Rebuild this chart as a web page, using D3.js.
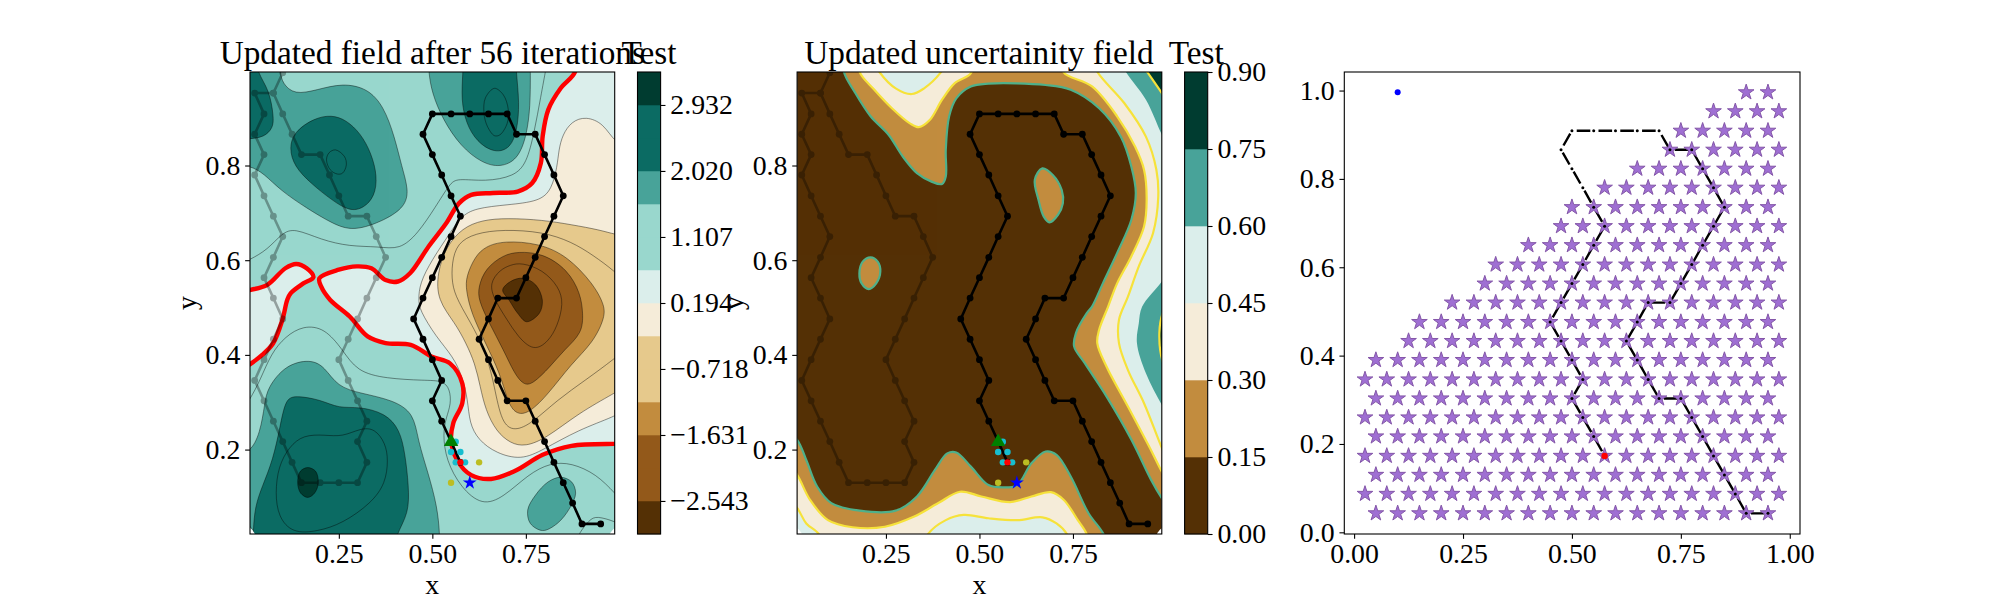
<!DOCTYPE html>
<html><head><meta charset="utf-8">
<script src="https://cdn.jsdelivr.net/npm/d3@7"></script>
<style>html,body{margin:0;background:#fff}svg{display:block}text{font-family:"Liberation Serif",serif;fill:#000}</style>
</head><body><svg id="c" width="2000" height="600"></svg>
<script>
// ---------- categories, labels ----------
const title1 = "Updated field after 56 iterations", title2 = "Updated uncertainity field", cbTitle = "Test";
const meanLevels = [-3,-2.543,-2.087,-1.631,-1.175,-0.718,-0.262,0.194,0.651,1.107,1.563,2.02,2.476,2.932,3.388];
const meanColors = ["#543005","#93591a","#93591a","#c28c3e","#e6c98c","#e6c98c","#f5ecd9","#dbeeeb","#99d7cd","#99d7cd","#48a399","#0b6b63","#0b6b63","#003c30"];
const meanTicks = [-2.543,-1.631,-0.718,0.194,1.107,2.02,2.932];
const sdLevels = [0,0.15,0.3,0.45,0.6,0.75,0.9];
const sdColors = ["#543005","#c28c3e","#f5ecd9","#dbeeeb","#48a399","#003c30"];
// ---------- paths and sampled points ----------
const pathCurrent = [[.95,.043],[.9,.043],[.875,.087],[.85,.13],[.825,.173],[.8,.217],[.775,.26],[.75,.303],[.7,.303],[.675,.346],[.65,.39],[.625,.433],[.65,.476],[.675,.52],[.725,.52],[.75,.563],[.775,.606],[.8,.65],[.825,.693],[.85,.736],[.825,.78],[.8,.823],[.775,.866],[.725,.866],[.7,.909],[.65,.909],[.6,.909],[.55,.909],[.5,.909],[.475,.866],[.5,.823],[.525,.78],[.55,.736],[.575,.693],[.55,.65],[.525,.606],[.5,.563],[.475,.52],[.45,.476],[.475,.433],[.5,.39],[.525,.346],[.5,.303],[.525,.26],[.55,.217],[.575,.173]];
const pathEarlier = [[.1,.996],[.075,.953],[.025,.953],[.05,.909],[.025,.866],[.05,.823],[.025,.78],[.05,.736],[.075,.693],[.1,.65],[.075,.606],[.05,.563],[.075,.52],[.1,.476],[.075,.433],[.05,.39],[.025,.346],[.05,.303],[.075,.26],[.1,.217],[.125,.173],[.15,.13],[.2,.13],[.25,.13],[.3,.13],[.325,.173],[.3,.217],[.325,.26],[.3,.303],[.275,.346],[.25,.39],[.275,.433],[.3,.476],[.325,.52],[.35,.563],[.375,.606],[.35,.65],[.325,.693],[.275,.693],[.25,.736],[.225,.78],[.2,.823],[.15,.823],[.125,.866],[.1,.909],[.075,.953]];
const cyanPts = [[.5625,.2165],[.55,.195],[.575,.195],[.5625,.173],[.5875,.173]];
const olivePts = [[.625,.173],[.55,.13]];
const nextStar = [.6,.13], startDot = [.1,.996], redDot = [.575,.173], greenTri = [.55,.2165];
// ---------- remaining candidate nodes, panel 3 ----------
const rowOdd = [.05,.1,.15,.2,.25,.3,.35,.4,.45,.5,.55,.6,.65,.7,.75,.8,.85,.9,.95];
const rowEven = [.025,.075,.125,.175,.225,.275,.325,.375,.425,.475,.525,.575,.625,.675,.725,.775,.825,.875,.925,.975];
const candY = [.043,.087,.13,.173,.217,.26,.303,.346,.39,.433,.476,.52,.563,.606,.65,.693,.736,.78,.823,.866,.909,.953,.996];
const candFirstX = [.05,.025,.05,.025,.05,.025,.05,.025,.05,.125,.15,.225,.3,.325,.4,.475,.5,.575,.65,.725,.75,.825,.9];
// ---------- mean field contours, [x,y] ----------
const m065 = [[.881,.997],[.843,.963],[.81,.918],[.795,.862],[.79,.805],[.767,.763],[.728,.745],[.662,.742],[.604,.738],[.571,.72],[.537,.678],[.49,.629],[.441,.573],[.408,.555],[.375,.558],[.337,.583],[.298,.587],[.25,.58],[.198,.562],[.203,.544],[.227,.516],[.279,.481],[.327,.439],[.375,.425],[.442,.421],[.499,.396],[.547,.382],[.58,.34],[.58,.298],[.556,.256],[.55,.22],[.566,.178],[.604,.146],[.657,.138],[.719,.154],[.795,.189],[.872,.208],[.989,.212],[1.03,.212],[1.03,-.03],[-.03,-.03],[-.03,.36],[.012,.38],[.045,.4],[.074,.424],[.099,.474],[.112,.516],[.121,.53],[.155,.551],[.182,.564],[.164,.583],[.136,.592],[.107,.583],[.059,.548],[.012,.537],[-.03,.53],[-.03,1.03],[.881,1.03]];
const m156a = [[.093,.997],[.099,.974],[.131,.949],[.193,.96],[.26,.974],[.327,.963],[.37,.925],[.399,.861],[.418,.798],[.437,.748],[.427,.713],[.375,.685],[.289,.66],[.231,.678],[.164,.71],[.093,.748],[.05,.783],[.012,.8],[-.03,.8],[-.03,1.03],[.093,1.03]];
const m156b = [[.49,.997],[.499,.953],[.528,.897],[.576,.84],[.633,.805],[.681,.796],[.728,.812],[.752,.862],[.762,.925],[.762,.997],[.762,1.03],[.49,1.03]];
const m156c = [[.012,.192],[.04,.235],[.052,.298],[.059,.33],[.107,.379],[.174,.391],[.212,.375],[.246,.333],[.308,.319],[.394,.305],[.451,.277],[.461,.22],[.489,.15],[.513,.08],[.52,.021],[.52,-.03],[-.03,-.03],[-.03,.192]];
const m156d = [[.843,.1415],[.872,.132],[.883,.108],[.867,.076],[.834,.044],[.795,.029],[.762,.044],[.755,.0725],[.776,.104],[.81,.132]];
const m202a = [[.031,.997],[.064,.96],[.076,.903],[.074,.879],[.05,.86],[.012,.856],[-.03,.856],[-.03,1.03],[.031,1.03]];
const m202b = [[.231,.907],[.27,.896],[.308,.868],[.337,.826],[.353,.777],[.346,.735],[.317,.71],[.279,.703],[.231,.727],[.174,.763],[.131,.798],[.117,.837],[.131,.872],[.184,.9]];
const m202c = [[.582,.997],[.577,.939],[.59,.889],[.619,.85],[.666,.826],[.709,.836],[.727,.875],[.733,.932],[.724,.997],[.724,1.03],[.582,1.03]];
const m202d = [[.026,.08],[.045,.122],[.074,.178],[.093,.249],[.107,.305],[.131,.315],[.203,.305],[.25,.287],[.303,.291],[.375,.277],[.413,.242],[.427,.192],[.437,.122],[.437,.065],[.403,.021],[.39,-.03],[.02,-.03],[.021,.03]];
const m293 = [[.167,.162],[.188,.154],[.195,.129],[.185,.108],[.167,.099],[.148,.108],[.14,.129],[.147,.154]];
const m248a = [[.241,.833],[.265,.819],[.27,.801],[.26,.784],[.246,.782],[.227,.791],[.217,.812],[.224,.827]];
const m248b = [[.666,.963],[.69,.949],[.703,.918],[.7,.889],[.681,.865],[.666,.863],[.647,.883],[.638,.911],[.642,.943]];
const m248c = [[.08,.108],[.088,.164],[.117,.206],[.155,.231],[.212,.231],[.26,.227],[.308,.245],[.346,.245],[.375,.213],[.382,.178],[.375,.129],[.337,.087],[.26,.044],[.193,.027],[.126,.023],[.088,.058]];
const m111a = [[.805,1.01],[.79,.946],[.772,.868],[.752,.805],[.719,.777],[.642,.766],[.566,.773],[.547,.762],[.509,.713],[.461,.656],[.413,.622],[.356,.629],[.279,.629],[.203,.643],[.131,.668],[.098,.657],[.059,.622],[.012,.601],[-.02,.59]];
const m111b = [[-.02,.27],[.012,.305],[.04,.347],[.069,.403],[.107,.439],[.155,.462],[.212,.457],[.26,.411],[.298,.365],[.375,.35],[.48,.346],[.528,.346],[.547,.328],[.55,.296],[.537,.268],[.528,.233],[.537,.177],[.576,.12],[.633,.081],[.69,.099],[.757,.148],[.815,.172],[.872,.172],[.939,.148],[.989,.107],[1.02,.08]];
const m111c = [[.885,.005],[.891,.022],[.92,.052],[.939,.06],[.989,.048],[1.02,.035]];
const m019 = [[1.03,.84],[.989,.846],[.958,.889],[.91,.904],[.872,.893],[.848,.865],[.838,.833],[.834,.798],[.819,.749],[.786,.724],[.7,.717],[.614,.71],[.576,.692],[.547,.657],[.499,.601],[.466,.551],[.463,.516],[.466,.495],[.509,.439],[.556,.396],[.58,.354],[.595,.305],[.599,.256],[.623,.22],[.671,.192],[.738,.178],[.795,.199],[.891,.242],[.989,.27],[1.03,.29]];
const mN026 = [[1.03,.65],[.989,.654],[.948,.664],[.872,.675],[.795,.685],[.7,.689],[.633,.685],[.58,.668],[.537,.629],[.513,.573],[.513,.516],[.561,.467],[.59,.425],[.614,.382],[.628,.333],[.642,.284],[.671,.238],[.709,.213],[.748,.206],[.805,.224],[.891,.277],[.989,.32],[1.03,.34]];
const mN072 = [[1.02,.55],[.989,.576],[.929,.611],[.872,.639],[.795,.66],[.69,.665],[.614,.657],[.566,.636],[.552,.594],[.552,.551],[.566,.516],[.614,.453],[.647,.396],[.666,.333],[.685,.256],[.719,.238],[.767,.256],[.834,.305],[.91,.347],[.989,.393],[1.02,.415]];
const mN118 = [[.69,.641],[.786,.636],[.862,.608],[.929,.551],[.958,.509],[.963,.481],[.929,.425],[.872,.382],[.805,.312],[.752,.273],[.719,.277],[.7,.305],[.681,.361],[.642,.425],[.604,.488],[.59,.537],[.59,.565],[.614,.608],[.642,.629]];
const mN163 = [[.728,.618],[.795,.615],[.862,.58],[.896,.53],[.903,.488],[.901,.446],[.853,.411],[.815,.375],[.767,.337],[.743,.337],[.719,.361],[.69,.411],[.652,.467],[.623,.516],[.623,.544],[.642,.583],[.69,.611]];
const mN209 = [[.738,.595],[.795,.58],[.838,.544],[.851,.509],[.834,.46],[.81,.428],[.771,.407],[.728,.439],[.7,.474],[.666,.516],[.652,.551],[.681,.58],[.709,.59]];
const mN254 = [[.743,.562],[.776,.548],[.794,.516],[.786,.488],[.752,.47],[.728,.488],[.705,.516],[.688,.537],[.709,.555]];
// ---------- uncertainty field contours ----------
const s015a = [[.138,.997],[.166,.956],[.209,.904],[.257,.865],[.295,.819],[.333,.784],[.372,.766],[.4,.761],[.41,.777],[.41,.833],[.419,.904],[.438,.942],[.477,.967],[.524,.973],[.677,.97],[.744,.96],[.82,.921],[.878,.861],[.906,.798],[.918,.742],[.906,.685],[.868,.615],[.83,.551],[.801,.502],[.787,.488],[.758,.446],[.753,.418],[.782,.382],[.84,.312],[.907,.22],[.959,.136],[.99,.094],[1.03,.05],[1.03,1.03],[.138,1.03]];
const s015b = [[-.03,.25],[.013,.22],[.037,.178],[.066,.122],[.104,.087],[.18,.071],[.276,.071],[.333,.101],[.381,.157],[.414,.192],[.438,.194],[.477,.164],[.524,.125],[.563,.12],[.601,.125],[.639,.171],[.677,.196],[.706,.189],[.744,.143],[.792,.065],[.832,.021],[.85,-.03],[-.03,-.03]];
const s015c = [[.668,.794],[.696,.78],[.72,.748],[.723,.72],[.71,.696],[.687,.68],[.672,.692],[.658,.727],[.648,.77]];
const s015d = [[.209,.606],[.228,.597],[.235,.576],[.224,.551],[.204,.539],[.185,.551],[.179,.572],[.188,.597]];
const s030a = [[.18,.997],[.219,.96],[.266,.921],[.314,.889],[.338,.881],[.367,.896],[.4,.939],[.434,.974],[.477,.995],[.48,1.03],[.18,1.03]];
const s030b = [[.725,.997],[.801,.967],[.868,.904],[.916,.84],[.94,.791],[.947,.727],[.94,.671],[.906,.608],[.868,.551],[.844,.502],[.82,.453],[.815,.425],[.84,.375],[.897,.291],[.954,.206],[.99,.15],[1.03,.1],[1.03,1.03],[.725,1.03]];
const s030c = [[-.03,.19],[.013,.146],[.047,.094],[.095,.051],[.161,.036],[.247,.037],[.324,.058],[.39,.087],[.448,.111],[.505,.101],[.582,.089],[.639,.101],[.691,.11],[.725,.094],[.763,.051],[.787,.021],[.8,-.03],[-.03,-.03]];
const s045a = [[.233,.997],[.276,.963],[.319,.951],[.352,.963],[.395,.995],[.42,1.03],[.21,1.03]];
const s045b = [[.816,.997],[.887,.932],[.945,.861],[.973,.791],[.978,.734],[.964,.657],[.926,.587],[.897,.523],[.873,.474],[.873,.425],[.897,.368],[.94,.298],[.99,.199],[1.03,.13],[1.03,1.03],[.8,1.03]];
const s045c = [[-.03,.11],[.013,.076],[.037,.044],[.071,.021],[.09,-.03],[-.03,-.03]];
const s045d = [[.362,.021],[.41,.051],[.458,.062],[.524,.055],[.601,.051],[.668,.057],[.706,.044],[.734,.021],[.75,-.03],[.34,-.03]];
const s060a = [[.892,.997],[.945,.939],[.99,.861],[1.03,.8],[1.03,1.03],[.87,1.03]];
const s060b = [[.99,.558],[.935,.502],[.926,.467],[.921,.425],[.945,.361],[.99,.291],[1.03,.24],[1.03,.61]];
const s075a = [[.949,.997],[.99,.95],[1.03,.9],[1.03,1.03],[.92,1.03]];
const s075b = [[.99,.488],[.981,.446],[.99,.386],[1.03,.33],[1.03,.54]];
// white, uncovered corners of the contoured area
const cornerA = [[.0125,.0217],[.0125,.034],[.025,.0217]], cornerB = [[.9875,.0217],[.9875,.034],[.975,.0217]];

const xTicks=[.25,.5,.75], yTicks=[.2,.4,.6,.8], x3Ticks=[0,.25,.5,.75,1], y3Ticks=[0,.2,.4,.6,.8,1];
const axTop=72, axBot=534, fs=27.8, tfs=33.3, tl=4.86, pad=4.86;
const svg=d3.select("#c");
const closed=(x,y)=>d3.line().x(d=>x(d[0])).y(d=>y(d[1])).curve(d3.curveCatmullRomClosed.alpha(.5));
const soft=(x,y)=>d3.line().x(d=>x(d[0])).y(d=>y(d[1])).curve(d3.curveBasisClosed);
const open=(x,y)=>d3.line().x(d=>x(d[0])).y(d=>y(d[1])).curve(d3.curveBasis);
function styleAxis(g){g.selectAll("text").style("font-family",'"Liberation Serif",serif').style("font-size",fs+"px").attr("fill","#000");
  g.selectAll(".tick line").attr("stroke","#000").attr("stroke-width",1.1);g.select(".domain").attr("stroke","none");}
function frame(id,left,right,xd,yd,xt,yt,xf,yf){
  const x=d3.scaleLinear(xd,[left,right]), y=d3.scaleLinear(yd,[axBot,axTop]);
  const g=svg.append("g");
  svg.append("clipPath").attr("id",id).append("rect").attr("x",left).attr("y",axTop).attr("width",right-left).attr("height",axBot-axTop);
  const body=g.append("g").attr("clip-path",`url(#${id})`);
  const over=svg.append("g");
  over.append("g").attr("transform",`translate(0,${axBot})`).call(d3.axisBottom(x).tickValues(xt).tickFormat(d3.format(xf)).tickSize(tl).tickPadding(pad)).call(styleAxis);
  over.append("g").attr("transform",`translate(${left},0)`).call(d3.axisLeft(y).tickValues(yt).tickFormat(d3.format(yf)).tickSize(tl).tickPadding(pad)).call(styleAxis);
  over.append("rect").attr("x",left).attr("y",axTop).attr("width",right-left).attr("height",axBot-axTop).attr("fill","none").attr("stroke","#000").attr("stroke-width",1.1);
  return {x,y,body,left,right};
}
function label(t,x,y,size,rot,anchor){const e=svg.append("text").text(t).attr("text-anchor",anchor||"middle").style("font-size",size+"px");
  if(rot)e.attr("transform",`translate(${x},${y}) rotate(-90)`);else e.attr("x",x).attr("y",y);return e;}
function fills(p,list,color,line,smooth){const f=(smooth?soft:closed)(p.x,p.y);
  p.body.selectAll(null).data(list).enter().append("path").attr("d",f).attr("fill",color).attr("stroke",line?line.c:"none").attr("stroke-width",line?line.w:0).attr("stroke-opacity",line?line.o:0);}
function lines(p,list,kind,c,w,o){const f=kind==="closed"?closed(p.x,p.y):kind==="soft"?soft(p.x,p.y):open(p.x,p.y);
  p.body.selectAll(null).data(list).enter().append("path").attr("d",f).attr("fill","none").attr("stroke",c).attr("stroke-width",w).attr("stroke-opacity",o);}
function colorbar(left,levels,colors,ticks,fmt){
  const w=23.1,y=d3.scaleLinear([levels[0],levels[levels.length-1]],[axBot,axTop]);
  svg.append("g").selectAll("rect").data(colors).enter().append("rect").attr("x",left).attr("width",w)
    .attr("y",(d,i)=>y(levels[i+1])).attr("height",(d,i)=>y(levels[i])-y(levels[i+1])+.3).attr("fill",d=>d);
  svg.append("g").attr("transform",`translate(${left+w},0)`).call(d3.axisRight(y).tickValues(ticks).tickFormat(fmt).tickSize(tl).tickPadding(pad)).call(styleAxis);
  svg.append("rect").attr("x",left).attr("y",axTop).attr("width",w).attr("height",axBot-axTop).attr("fill","none").attr("stroke","#000").attr("stroke-width",1.1);
  label(cbTitle,left+w/2,63.7,tfs);
}
function route(p,op){
  const l=d3.line().x(d=>p.x(d[0])).y(d=>p.y(d[1]));
  [[pathEarlier,op],[pathCurrent,1]].forEach(([d,o])=>{
    const g=p.body.append("g").attr("opacity",o);
    g.append("path").attr("d",l(d)).attr("fill","none").attr("stroke","#000").attr("stroke-width",2.6).attr("stroke-linejoin","round");
    g.selectAll("circle").data(d).enter().append("circle").attr("cx",e=>p.x(e[0])).attr("cy",e=>p.y(e[1])).attr("r",3.4).attr("fill","#000");
  });
  const dot=(arr,c,r)=>p.body.selectAll(null).data(arr).enter().append("circle").attr("cx",e=>p.x(e[0])).attr("cy",e=>p.y(e[1])).attr("r",r).attr("fill",c);
  dot(cyanPts,"#17becf",3.2); dot(olivePts,"#bcbd22",3.2);
  p.body.append("path").attr("d",d3.symbol(d3.symbolStar,60)()).attr("transform",`translate(${p.x(nextStar[0])},${p.y(nextStar[1])})`).attr("fill","#0000ff");
  dot([redDot],"#ff0000",3.2);
  p.body.append("path").attr("d",d3.symbol(d3.symbolTriangle,90)()).attr("transform",`translate(${p.x(greenTri[0])},${p.y(greenTri[1])})`).attr("fill","#008000");
}
const xD=[.0125,.9875], yD=[.0217,.9975];
// ---- panel 1
const p1=frame("a1",250,614.7,xD,yD,xTicks,yTicks,".2f",".1f");
const thin={c:"#000",w:.7,o:.6};
p1.body.append("rect").attr("x",250).attr("y",axTop).attr("width",364.7).attr("height",462).attr("fill","#dbeeeb");
fills(p1,[m065],"#99d7cd",thin);
fills(p1,[m156a,m156b,m156c],"#48a399",thin,true);
fills(p1,[m156d],"#48a399",thin);
fills(p1,[m202a,m202b,m202c,m202d],"#0b6b63",thin,true);
fills(p1,[m293],"#003c30",thin);
fills(p1,[m019],"#f5ecd9",thin,true);
fills(p1,[mN026],"#e6c98c",thin,true);
fills(p1,[mN118],"#c28c3e",thin,true);
fills(p1,[mN163],"#93591a",thin,true);
fills(p1,[mN254],"#543005",thin);
lines(p1,[m248a,m248b],"closed","#000",.7,.6);
lines(p1,[m248c,mN209],"soft","#000",.7,.6);
lines(p1,[m111a,m111b,m111c,mN072],"open","#000",.7,.6);
lines(p1,[m065],"closed","#ff0000",4.4,1);
fills(p1,[cornerA,cornerB],"#fff");
route(p1,.32);
label(title1,432.3,63.7,tfs);
label("x",432.3,593.5,fs);
label("y",196,303,fs,true);
colorbar(637.5,meanLevels,meanColors,meanTicks,d=>d3.format(".3f")(d).replace("-","\u2212"));
// ---- panel 2
const p2=frame("a2",797.1,1161.8,xD,yD,xTicks,yTicks,".2f",".1f");
p2.body.append("rect").attr("x",797.1).attr("y",axTop).attr("width",364.7).attr("height",462).attr("fill","#543005");
fills(p2,[s015a,s015b,s015c,s015d],"#c28c3e",{c:"#4fb08a",w:2.2,o:1});
fills(p2,[s030a,s030b,s030c],"#f5ecd9",{c:"#f6e23a",w:2.2,o:1});
fills(p2,[s045a,s045b,s045c,s045d],"#dbeeeb",{c:"#f6e23a",w:2.2,o:1});
fills(p2,[s060a,s060b],"#48a399");
fills(p2,[s075a,s075b],"#003c30",{c:"#f6e23a",w:2.2,o:1});
fills(p2,[cornerA,cornerB],"#fff");
route(p2,.32);
label(title2,979,63.7,tfs);
label("x",979.4,593.5,fs);
label("y",743,303,fs,true);
colorbar(1184.6,sdLevels,sdColors,sdLevels,d3.format(".2f"));
// ---- panel 3
const p3=frame("a3",1344.3,1800,[-.0225,1.0235],[-.0038,1.042],x3Ticks,y3Ticks,".2f",".1f");
const segs=d3.pairs(pathCurrent);
p3.body.selectAll(null).data(segs).enter().append("line")
  .attr("x1",d=>p3.x(d[0][0])).attr("y1",d=>p3.y(d[0][1])).attr("x2",d=>p3.x(d[1][0])).attr("y2",d=>p3.y(d[1][1]))
  .attr("stroke","#000").attr("stroke-width",2.4).attr("stroke-dasharray","0 3.4 13.6 5").attr("stroke-linecap","butt");
const star=d3.symbol(d3.symbolStar,76)();
const rows=candY.map((y,i)=>{const base=(i%2===0)?rowOdd:rowEven;return base.filter(v=>v>=candFirstX[i]-1e-6).map(v=>[v,y]);}).flat();
p3.body.selectAll(null).data(rows).enter().append("path").attr("d",star).attr("transform",d=>`translate(${p3.x(d[0])},${p3.y(d[1])})`)
  .attr("fill","#9f6fd3").attr("stroke","#8457a8").attr("stroke-width",1);
p3.body.selectAll(null).data(pathCurrent).enter().append("circle").attr("cx",d=>p3.x(d[0])).attr("cy",d=>p3.y(d[1])).attr("r",1.5).attr("fill","#000");
p3.body.append("circle").attr("cx",p3.x(startDot[0])).attr("cy",p3.y(startDot[1])).attr("r",3).attr("fill","#0000ff");
p3.body.append("circle").attr("cx",p3.x(redDot[0])).attr("cy",p3.y(redDot[1])).attr("r",3.2).attr("fill","#ff0000");
</script></body></html>
